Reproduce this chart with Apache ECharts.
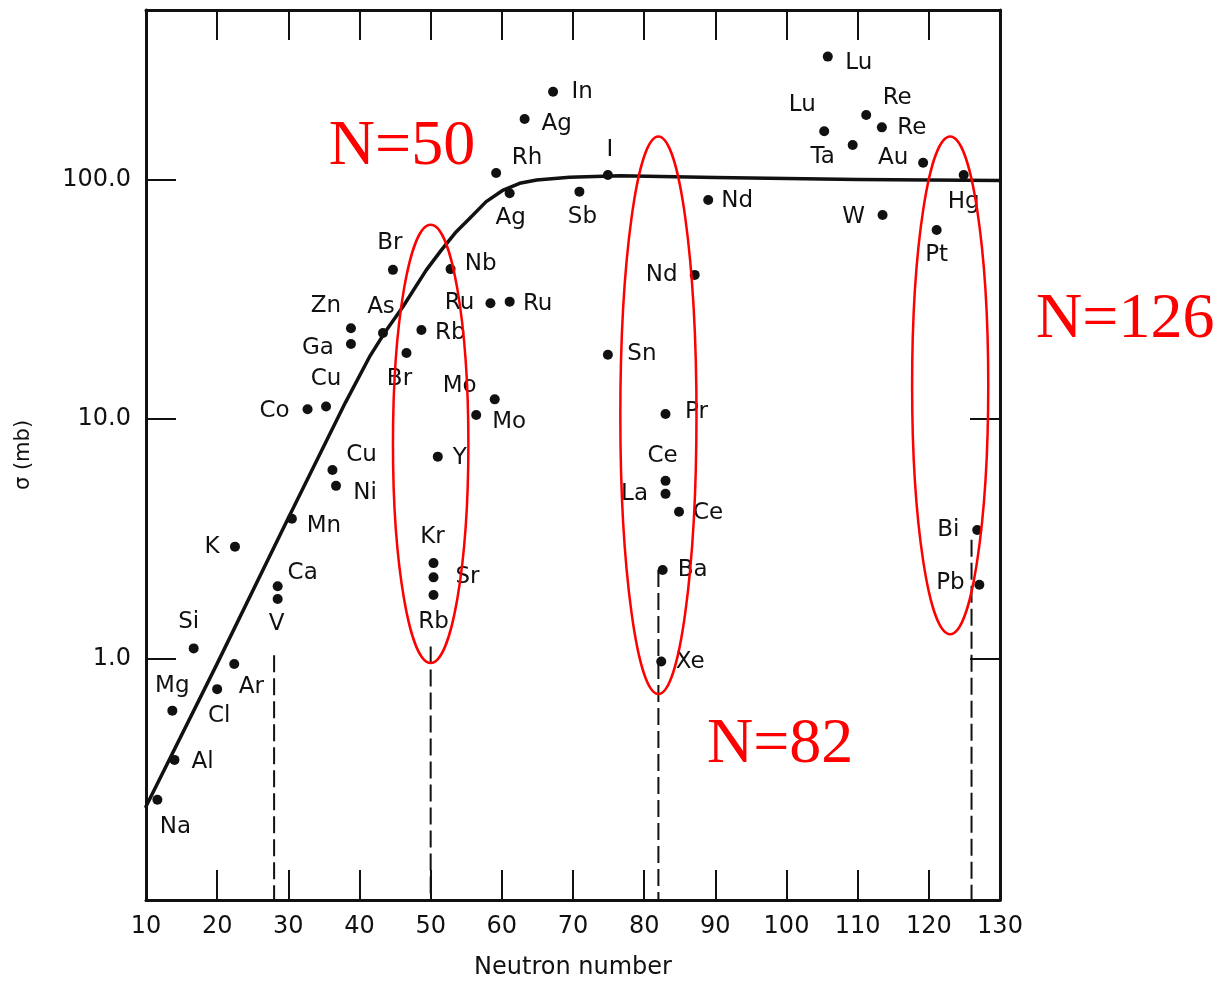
<!DOCTYPE html>
<html>
<head>
<meta charset="utf-8">
<script src="https://cdn.jsdelivr.net/npm/echarts@6/dist/echarts.min.js"></script>
<style>
  html, body { margin: 0; padding: 0; background: #ffffff; }
  #main { width: 1218px; height: 982px; }
</style>
</head>
<body>
<div id="main"></div>
<script>
// ---------- data ----------
const elements = ['Na','Al','Mg','Si','Cl','Ar','K','Ca','V','Mn','Cu','Ni','Co','Cu','Ga','Zn','As','Br','Br','Rb',
  'Nb','Ru','Ru','Rh','Ag','Ag','In','Sb','I','Nd','Nd','Sn','Mo','Mo','Y','Kr','Sr','Rb','Pr','Ce',
  'La','Ce','Ba','Xe','Lu','Lu','Ta','Re','Re','Au','Hg','W','Pt','Bi','Pb'];
const neutronN = [11.6,14.0,13.7,16.7,20.0,22.4,22.5,28.5,28.5,30.5,36.2,36.7,32.7,35.3,38.8,38.8,43.3,44.7,46.6,48.7,
  52.8,58.4,61.1,59.2,61.1,63.2,67.2,70.9,74.9,89.0,87.1,74.9,59.0,56.4,51.0,50.4,50.4,50.4,83.0,83.0,
  83.0,84.9,82.6,82.4,105.8,105.3,109.3,111.2,113.4,119.2,124.9,113.5,121.1,126.8,127.1];
const sigma = [0.256,0.376,0.604,1.10,0.743,0.946,2.93,2.00,1.77,3.83,6.13,5.26,11.0,11.3,20.6,24.0,22.9,42.1,18.9,23.6,
  42.4,30.5,31.0,107,88,180,234,89.4,105,82.5,40.1,18.6,12.1,10.4,6.97,2.50,2.18,1.84,10.5,5.52,
  4.87,4.10,2.34,0.969,328,160,140,187,166,118,105,71.4,61.8,3.44,2.03];

// fitted curve
const curveN = [10,20,30,38,41.4,43.5,46.1,49.4,51.5,53.6,55.5,57.8,60.2,62.5,64.9,69.5,76.6,90,110,130];
const curveSigma = [0.24,0.95,3.86,11.7,18.2,22.9,29.5,42.1,50.9,60.8,69.2,81.2,90.8,96.9,100,102.6,104.2,102.5,100.5,99.5];

// dashed magic-number lines
const shellN = [28, 50, 82, 126];
const shellTop = [1.03, 1.12, 2.34, 3.13];

// red rings (data coords)
const ringN = [50, 82, 123];
const ringTop = [65, 152, 152];
const ringBottom = [0.956, 0.709, 1.26];
const ringHalfWidth = [5.3, 5.35, 5.35];

// red annotation texts (data coords)
const annotText = ['N=50', 'N=82', 'N=126'];
const annotN = [45.97, 99.1, 147.6];
const annotSigma = [137, 0.435, 26];

// axis ticks
const yTicks = [1, 10, 100];
const yMin = 0.09757, yMax = 513.8;

// ---------- label placement (style, not data) ----------
const labelOffsets = [[18,27],[28,2],[0,-25],[-5,-26],[2,27],[17,23],[-23,0],[25,-13],[-1,25],[32,7],
  [29,-15],[29,7],[-33,2],[0,-27],[-33,4],[-25,-22],[-2,-26],[-3,-27],[-7,26],[29,3],
  [30,-5],[-31,0],[28,2],[31,-15],[1,25],[32,5],[29,0],[3,25],[2,-25],[29,1],
  [-33,0],[34,-1],[-35,-13],[33,7],[22,1],[-1,-26],[34,0],[0,27],[31,-2],[-3,-25],
  [-31,0],[29,1],[30,0],[29,0],[31,6],[-22,-26],[-30,12],[31,-17],[30,1],[-30,-5],
  [0,27],[-29,2],[0,25],[-29,0],[-29,-2]];

const FONT = 'DejaVu Sans';
const INK = '#111111';
const chart = echarts.init(document.getElementById('main'), null, { renderer: 'canvas' });

const pointData = elements.map((name, i) => ({
  name: name,
  value: [neutronN[i], sigma[i]],
  label: { offset: labelOffsets[i] }
}));

const shellSeries = shellN.map((n, i) => ({
  type: 'line',
  data: [[n, shellTop[i]], [n, yMin]],
  symbol: 'none',
  silent: true,
  animation: false,
  lineStyle: { color: INK, width: 2, type: [17, 6] },
  z: 2
}));

const axisLineStyle = { show: true, lineStyle: { color: INK, width: 3 } };

chart.setOption({
  animation: false,
  backgroundColor: '#ffffff',
  grid: { left: 146, right: 218, top: 10, bottom: 82, containLabel: false, outerBoundsMode: 'none' },
  xAxis: [{
    type: 'value', min: 10, max: 130, interval: 10, position: 'bottom',
    axisLine: axisLineStyle,
    axisTick: { show: true, inside: true, length: 30, lineStyle: { color: INK, width: 2 } },
    axisLabel: { show: true, margin: 15, color: INK, fontFamily: FONT, fontSize: 24,
      showMinLabel: true, showMaxLabel: true },
    splitLine: { show: false },
    name: 'Neutron number', nameLocation: 'middle', nameGap: 56,
    nameTextStyle: { color: INK, fontFamily: FONT, fontSize: 24 }
  }, {
    type: 'value', min: 10, max: 130, interval: 10, position: 'top',
    axisLine: axisLineStyle,
    axisTick: { show: true, inside: true, length: 30, lineStyle: { color: INK, width: 2 } },
    axisLabel: { show: false },
    splitLine: { show: false }
  }],
  yAxis: [{
    type: 'log', logBase: 10, min: yMin, max: yMax, position: 'left',
    axisLine: axisLineStyle,
    axisTick: { show: true, inside: true, length: 30, customValues: yTicks, lineStyle: { color: INK, width: 2 } },
    axisLabel: { show: true, margin: 15, customValues: yTicks, color: INK, fontFamily: FONT, fontSize: 24,
      formatter: v => Number(v).toFixed(1) },
    splitLine: { show: false },
    minorTick: { show: false },
    name: 'σ (mb)', nameLocation: 'middle', nameGap: 112, nameRotate: 90,
    nameTextStyle: { color: INK, fontFamily: FONT, fontSize: 21 }
  }, {
    type: 'log', logBase: 10, min: yMin, max: yMax, position: 'right',
    axisLine: axisLineStyle,
    axisTick: { show: true, inside: true, length: 30, customValues: yTicks, lineStyle: { color: INK, width: 2 } },
    axisLabel: { show: false },
    splitLine: { show: false }
  }],
  series: [
    {
      type: 'line',
      data: curveN.map((n, i) => [n, curveSigma[i]]),
      smooth: false,
      symbol: 'none',
      silent: true,
      lineStyle: { color: INK, width: 3.5, join: 'round', cap: 'round' },
      z: 3
    },
    ...shellSeries,
    {
      type: 'scatter',
      data: pointData,
      symbol: 'circle',
      symbolSize: 10,
      itemStyle: { color: INK, opacity: 1 },
      label: {
        show: true, position: 'inside', formatter: '{b}',
        color: INK, fontFamily: FONT, fontSize: 23,
        align: 'center', verticalAlign: 'middle'
      },
      z: 4
    }
  ]
});

// red rings & annotations, positioned through the chart's own scales
function px(n, s) { return chart.convertToPixel({ xAxisIndex: 0, yAxisIndex: 0 }, [n, s]); }
const graphics = [];
ringN.forEach((n, i) => {
  const top = px(n, ringTop[i]);
  const bot = px(n, ringBottom[i]);
  const side = px(n + ringHalfWidth[i], ringTop[i]);
  graphics.push({
    type: 'ellipse', silent: true, z: 10,
    shape: { cx: top[0], cy: (top[1] + bot[1]) / 2, rx: side[0] - top[0], ry: (bot[1] - top[1]) / 2 },
    style: { fill: 'none', stroke: '#ff0000', lineWidth: 2.5 }
  });
});
annotText.forEach((t, i) => {
  const p = px(annotN[i], annotSigma[i]);
  graphics.push({
    type: 'text', silent: true, z: 10,
    x: p[0], y: p[1],
    style: { text: t, font: '64px "Liberation Serif"', fill: '#ff0000',
      textAlign: 'center', textVerticalAlign: 'middle', align: 'center', verticalAlign: 'middle' }
  });
});
chart.setOption({ graphic: graphics });
</script>
</body>
</html>
